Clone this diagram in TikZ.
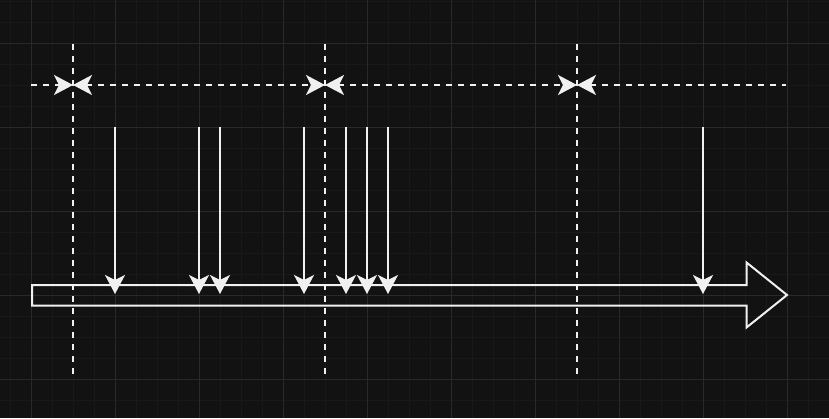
\documentclass[tikz,border=0pt]{standalone}
\usetikzlibrary{arrows.meta}
\definecolor{bg}{HTML}{121212}
\definecolor{gridminor}{HTML}{191919}
\definecolor{gridmajor}{HTML}{292929}
\definecolor{ink}{HTML}{F0F0F0}
\tikzset{
  tip/.tip={Stealth[length=19pt,width=20pt,inset=5pt]},
  dimline/.style={draw=ink,line width=2.2pt,dash pattern=on 6pt off 6pt},
  flow/.style={draw=ink,line width=2pt,-{tip}},
  bararrow/.style={draw=ink,line width=2pt,line join=miter},
}
\begin{document}
\begin{tikzpicture}[x=1pt,y=-1pt]
\fill[bg] (0,0) rectangle (829,418);
\useasboundingbox (0,0) rectangle (829,418);
% grid
\foreach \k in {0,...,39} {\draw[gridminor,line width=1pt] ({10.7+21*\k},0) -- ({10.7+21*\k},418);}
\foreach \k in {0,...,19} {\draw[gridminor,line width=1pt] (0,{1.3+21*\k}) -- (829,{1.3+21*\k});}
\foreach \k in {0,...,9} {\draw[gridmajor,line width=1pt] ({31.7+84*\k},0) -- ({31.7+84*\k},418);}
\foreach \k in {0,...,4} {\draw[gridmajor,line width=1pt] (0,{43.3+84*\k}) -- (829,{43.3+84*\k});}
% big arrow bar
\draw[bararrow] (32,285) -- (746.5,285) -- (746.5,262.5) -- (787,295) -- (746.5,327.5) -- (746.5,305.5) -- (32,305.5) -- cycle;
% vertical dashed lines
\foreach \x [count=\i] in {73,325,577} {
  \coordinate (vt\i) at (\x,44);
  \coordinate (vb\i) at (\x,378);
  \draw[dimline] (vt\i) -- (vb\i);
  \coordinate (m\i) at (\x,85);
}
\coordinate (hl) at (31,85);
\coordinate (hr) at (786,85);
% horizontal dimension line
\draw[dimline,-{tip}] (hl) -- (m1);
\draw[dimline,{tip}-{tip}] (m1) -- (m2);
\draw[dimline,{tip}-{tip}] (m2) -- (m3);
\draw[dimline,{tip}-] (m3) -- (hr);
% event arrows
\foreach \x [count=\i] in {115,199,220,304,346,367,388,703} {
  \coordinate (s\i) at (\x,127);
  \coordinate (e\i) at (\x,294);
  \draw[flow] (s\i) -- (e\i);
}
\end{tikzpicture}
\end{document}
